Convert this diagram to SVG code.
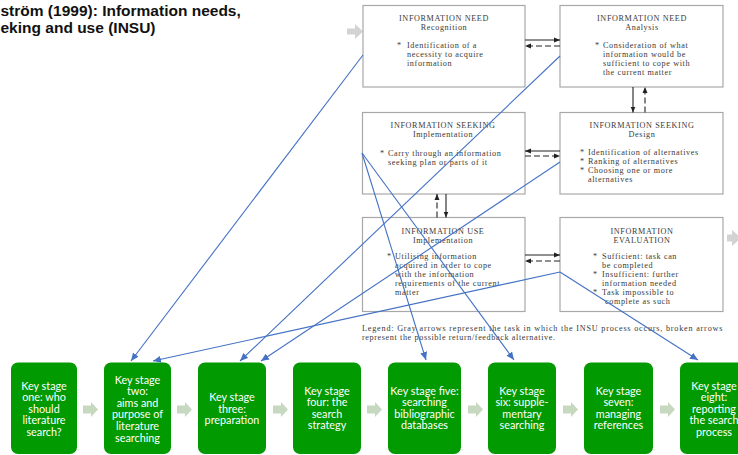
<svg xmlns="http://www.w3.org/2000/svg" xmlns:xlink="http://www.w3.org/1999/xlink" width="738" height="455" viewBox="0 0 738 455">
<style>
.title{font-family:"Liberation Sans",Arial,sans-serif;font-weight:bold;font-size:15.5px;fill:#111}
.box{fill:#fff;stroke:#a8a8a8;stroke-width:1.2}
.st{font-family:"Liberation Serif","Times New Roman",serif;font-size:8.2px;fill:#3a3a3a;letter-spacing:0.6px}
.hd{text-anchor:middle}
.ks{fill:#019a01}
.kt{font-family:Lato,"Noto Sans",sans-serif;font-size:10.8px;fill:#fff;text-anchor:middle}
.blue{stroke:#4472c4;stroke-width:1.1;fill:none;marker-end:url(#ba)}
.blk{stroke:#222;stroke-width:1.1;fill:none;marker-end:url(#ka)}
.dash{stroke-dasharray:6,3}
.garr{fill:#c6d9c0}
.grey{fill:#d3d3d3}
</style>
<defs>
<marker id="ba" markerUnits="userSpaceOnUse" markerWidth="9" markerHeight="7" refX="8" refY="3.5" orient="auto">
<path d="M0,0 L8,3.5 L0,7 Z" fill="#4472c4"/>
</marker>
<marker id="ka" markerUnits="userSpaceOnUse" markerWidth="6" markerHeight="6" refX="6" refY="3" orient="auto">
<path d="M0,0.5 L6,3 L0,5.5 Z" fill="#222"/>
</marker>
<path id="garrow" d="M0,-4 L8,-4 L8,-7.5 L15,0 L8,7.5 L8,4 L0,4 Z"/>
</defs>

<rect width="738" height="455" fill="#fff"/>

<g id="title">
<text class="title" x="0.5" y="15.5">ström (1999): Information needs,<tspan x="0.5" y="33">eking and use (INSU)</tspan></text>
</g>

<g id="gray-arrows">
<path class="grey" d="M347,28.5 L355,28.5 L355,24 L363,31.5 L355,39 L355,34.5 L347,34.5 Z"/>
<path class="grey" d="M727,234.5 L732,234.5 L732,230 L741,238 L732,246 L732,241.5 L727,241.5 Z"/>
</g>

<g id="need-recognition">
<rect class="box" x="363" y="5.5" width="162" height="81.5"/>
<text class="st hd" x="444" y="21">INFORMATION NEED<tspan x="444" y="30.1">Recognition</tspan></text>
<text class="st" x="397" y="47.5">*<tspan x="407" y="47.5">Identification of a</tspan><tspan x="407" y="56.6">necessity to acquire</tspan><tspan x="407" y="65.7">information</tspan></text>
</g>

<g id="need-analysis">
<rect class="box" x="560" y="5.5" width="163" height="81.5"/>
<text class="st hd" x="642" y="21">INFORMATION NEED<tspan x="642" y="30.1">Analysis</tspan></text>
<text class="st" x="595" y="47.5">*<tspan x="603" y="47.5">Consideration of what</tspan><tspan x="603" y="56.6">information would be</tspan><tspan x="603" y="65.7">sufficient to cope with</tspan><tspan x="603" y="74.8">the current matter</tspan></text>
</g>

<g id="seeking-implementation">
<rect class="box" x="362.5" y="112.5" width="162.5" height="81.5"/>
<text class="st hd" x="443" y="128">INFORMATION SEEKING<tspan x="443" y="137.1">Implementation</tspan></text>
<text class="st" x="380" y="155.5">*<tspan x="388" y="155.5">Carry through an information</tspan><tspan x="388" y="164.6">seeking plan or parts of it</tspan></text>
</g>

<g id="seeking-design">
<rect class="box" x="560" y="112.5" width="163" height="81.5"/>
<text class="st hd" x="642" y="128">INFORMATION SEEKING<tspan x="642" y="137.1">Design</tspan></text>
<text class="st" x="580" y="155">*<tspan x="588" y="155">Identification of alternatives</tspan><tspan x="580" y="164.1">*</tspan><tspan x="588" y="164.1">Ranking of alternatives</tspan><tspan x="580" y="173.2">*</tspan><tspan x="588" y="173.2">Choosing one or more</tspan><tspan x="588" y="182.3">alternatives</tspan></text>
</g>

<g id="use-implementation">
<rect class="box" x="362.5" y="217.5" width="162.5" height="94"/>
<text class="st hd" x="443" y="233.5">INFORMATION USE<tspan x="443" y="242.6">Implementation</tspan></text>
<text class="st" x="387" y="258.8">*<tspan x="395" y="258.8">Utilising information</tspan><tspan x="395" y="267.9">acquired in order to cope</tspan><tspan x="395" y="277">with the information</tspan><tspan x="395" y="286.1">requirements of the current</tspan><tspan x="395" y="295.2">matter</tspan></text>
</g>

<g id="evaluation">
<rect class="box" x="560" y="217.5" width="163" height="94"/>
<text class="st hd" x="642" y="233.5">INFORMATION<tspan x="642" y="242.6">EVALUATION</tspan></text>
<text class="st" x="593" y="258.5">*<tspan x="602" y="258.5">Sufficient: task can</tspan><tspan x="602" y="267.6">be completed</tspan><tspan x="593" y="276.7">*</tspan><tspan x="602" y="276.7">Insufficient: further</tspan><tspan x="602" y="285.8">information needed</tspan><tspan x="593" y="294.9">*</tspan><tspan x="602" y="294.9">Task impossible to</tspan><tspan x="605" y="304">complete as such</tspan></text>
</g>

<g id="legend">
<text class="st" x="362" y="330.5"><tspan x="362" y="330.5" textLength="361" lengthAdjust="spacing">Legend: Gray arrows represent the task in which the INSU process occurs, broken arrows</tspan><tspan x="362" y="339.6">represent the possible return/feedback alternative.</tspan></text>
</g>

<g id="key-stage-1">
<rect class="ks" x="11" y="362.5" width="66" height="91.5" rx="7"/>
<text class="kt" x="44" y="389.5">Key stage<tspan x="44" y="401.1">one: who</tspan><tspan x="44" y="412.7">should</tspan><tspan x="44" y="424.3">literature</tspan><tspan x="44" y="435.9">search?</tspan></text>
</g>
<g id="key-stage-2">
<rect class="ks" x="104" y="362.5" width="67" height="91.5" rx="7"/>
<text class="kt" x="137.5" y="383.5">Key stage<tspan x="137.5" y="395.1">two:</tspan><tspan x="137.5" y="406.7">aims and</tspan><tspan x="137.5" y="418.3">purpose of</tspan><tspan x="137.5" y="429.9">literature</tspan><tspan x="137.5" y="441.5">searching</tspan></text>
</g>
<g id="key-stage-3">
<rect class="ks" x="198" y="362.5" width="68" height="91.5" rx="7"/>
<text class="kt" x="232" y="401">Key stage<tspan x="232" y="412.6">three:</tspan><tspan x="232" y="424.2">preparation</tspan></text>
</g>
<g id="key-stage-4">
<rect class="ks" x="293" y="362.5" width="68" height="91.5" rx="7"/>
<text class="kt" x="327" y="394.5">Key stage<tspan x="327" y="406.1">four: the</tspan><tspan x="327" y="417.7">search</tspan><tspan x="327" y="429.3">strategy</tspan></text>
</g>
<g id="key-stage-5">
<rect class="ks" x="388" y="362.5" width="73" height="91.5" rx="7"/>
<text class="kt" x="424.5" y="394.5">Key stage five:<tspan x="424.5" y="406.1">searching</tspan><tspan x="424.5" y="417.7">bibliographic</tspan><tspan x="424.5" y="429.3">databases</tspan></text>
</g>
<g id="key-stage-6">
<rect class="ks" x="488" y="362.5" width="68" height="91.5" rx="7"/>
<text class="kt" x="522" y="394.5">Key stage<tspan x="522" y="406.1">six: supple-</tspan><tspan x="522" y="417.7">mentary</tspan><tspan x="522" y="429.3">searching</tspan></text>
</g>
<g id="key-stage-7">
<rect class="ks" x="584" y="362.5" width="69" height="91.5" rx="7"/>
<text class="kt" x="618.5" y="394.5">Key stage<tspan x="618.5" y="406.1">seven:</tspan><tspan x="618.5" y="417.7">managing</tspan><tspan x="618.5" y="429.3">references</tspan></text>
</g>
<g id="key-stage-8">
<rect class="ks" x="680" y="362.5" width="68" height="91.5" rx="7"/>
<text class="kt" x="714" y="389.5">Key stage<tspan x="714" y="401.1">eight:</tspan><tspan x="714" y="412.7">reporting</tspan><tspan x="714" y="424.3">the search</tspan><tspan x="714" y="435.9">process</tspan></text>
</g>

<g id="stage-arrows" class="garr">
<use xlink:href="#garrow" x="83" y="409.5"/>
<use xlink:href="#garrow" x="177" y="409.5"/>
<use xlink:href="#garrow" x="273" y="409.5"/>
<use xlink:href="#garrow" x="367" y="409.5"/>
<use xlink:href="#garrow" x="468" y="409.5"/>
<use xlink:href="#garrow" x="563" y="409.5"/>
<use xlink:href="#garrow" x="660" y="409.5"/>
</g>

<g id="connectors">
<line class="blk" x1="525" y1="40" x2="560" y2="40"/>
<line class="blk dash" x1="560" y1="46" x2="525" y2="46"/>
<line class="blk" x1="633" y1="87" x2="633" y2="112.5"/>
<line class="blk dash" x1="645" y1="112.5" x2="645" y2="87"/>
<line class="blk" x1="560" y1="151" x2="525" y2="151"/>
<line class="blk dash" x1="525" y1="156" x2="560" y2="156"/>
<line class="blk dash" x1="437" y1="217.5" x2="437" y2="194"/>
<line class="blk" x1="446" y1="194" x2="446" y2="217.5"/>
<line class="blk" x1="525" y1="255" x2="560" y2="255"/>
<line class="blk dash" x1="560" y1="261" x2="525" y2="261"/>

<line class="blue" x1="363" y1="55" x2="131" y2="361"/>
<line class="blue" x1="560" y1="56" x2="240" y2="361"/>
<line class="blue" x1="560" y1="162" x2="261" y2="361"/>
<line class="blue" x1="560" y1="272" x2="153" y2="361"/>
<line class="blue" x1="560" y1="272" x2="698" y2="360"/>
<line class="blue" x1="362" y1="153" x2="426" y2="360"/>
<line class="blue" x1="362" y1="153" x2="514" y2="360"/>
</g>
</svg>
